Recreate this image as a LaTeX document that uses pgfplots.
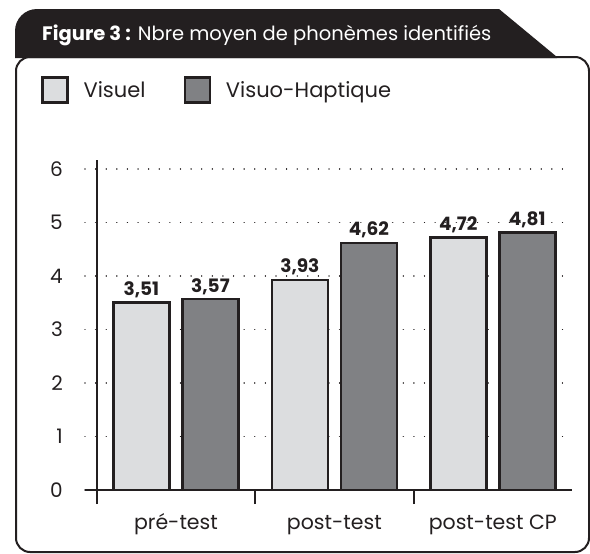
\documentclass[border=0pt]{standalone}
\usepackage{fontspec}
\setmainfont{Poppins}
\usepackage{pgfplots}
\pgfplotsset{compat=1.18}
\definecolor{ink}{HTML}{231F20}
\definecolor{lightbar}{HTML}{DCDDDF}
\definecolor{darkbar}{HTML}{808184}
\begin{document}
\begin{tikzpicture}
\useasboundingbox (0pt,0pt) rectangle (590pt,-554pt);
% frame
\draw[ink, line width=2pt, rounded corners=14pt] (16pt,-57pt) -- (589pt,-57pt) -- (589pt,-552pt) -- (16pt,-552pt) -- cycle;
% title tab
\fill[ink] (15pt,-58pt) -- (15pt,-31pt) arc[start angle=180, end angle=90, radius=22pt] -- (499pt,-9pt) -- (557pt,-57pt) -- (557pt,-58pt) -- cycle;
\node[anchor=base west, text=white, font=\fontsize{19.5}{22}\selectfont, inner sep=0pt] at (42pt,-40pt) {\textbf{Figure 3 :} Nbre moyen de phonèmes identifiés};
\begin{axis}[
  at={(85pt,-490pt)}, anchor=south west, scale only axis,
  width=487pt, height=330pt,
  xmin=0.426, xmax=3.5, ymin=0, ymax=6.17,
  clip=false,
  ybar=13pt, bar width=56pt,
  axis lines*=left,
  separate axis lines,
  x axis line style={ink, line width=2.4pt},
  y axis line style={draw=none},
  ymajorgrids,
  grid style={ink, line width=1.4pt, dash pattern=on 0.01pt off 10.6pt, line cap=round},
  ytick={0,1,2,3,4,5,6},
  xtick={1,2,3},
  xticklabels={pré-test, post-test, post-test CP},
  tick align=outside,
  major tick length=0pt,
  extra x ticks={0.5,1.5,2.5},
  extra x tick labels={},
  extra x tick style={major tick length=14pt, grid=none},
  tick style={ink, line width=2pt},
  /pgf/number format/assume math mode=true,
  yticklabel style={anchor=east, inner sep=0pt, xshift=-22pt, font=\fontsize{20}{23}\selectfont, text=ink},
  xticklabel style={anchor=base, inner sep=0pt, yshift=-39pt, font=\fontsize{20.5}{24}\selectfont, text=ink},
  nodes near coords={\pgfmathprintnumber[assume math mode=true, fixed, fixed zerofill, precision=2, use comma]{\pgfplotspointmeta}},
  nodes near coords style={font=\fontsize{18.5}{21}\selectfont\bfseries, anchor=base, inner sep=0pt, yshift=7pt, text=ink},
  legend image code/.code={\draw[#1, line width=2.4pt] (0pt,-12.5pt) rectangle (25pt,12.5pt);},
  legend style={draw=none, fill=none, inner sep=0pt, at={(-0.0903,1.2121)}, anchor=west,
    font=\fontsize{21}{24}\selectfont, text=ink,
    nodes={inner xsep=0pt, inner ysep=0pt},
    /tikz/every odd column/.append style={column sep=15pt},
    /tikz/every even column/.append style={column sep=38pt}},
  legend columns=2,
]
\addplot[fill=lightbar, draw=ink, line width=2.5pt] coordinates {(1,3.51) (2,3.93) (3,4.72)};
\addplot[fill=darkbar, draw=ink, line width=2.5pt] coordinates {(1,3.57) (2,4.62) (3,4.81)};
\legend{Visuel, Visuo-Haptique}
\draw[ink, line width=2.4pt] (axis cs:0.5,0) -- (axis cs:0.5,6.17);
\end{axis}
\end{tikzpicture}
\end{document}
